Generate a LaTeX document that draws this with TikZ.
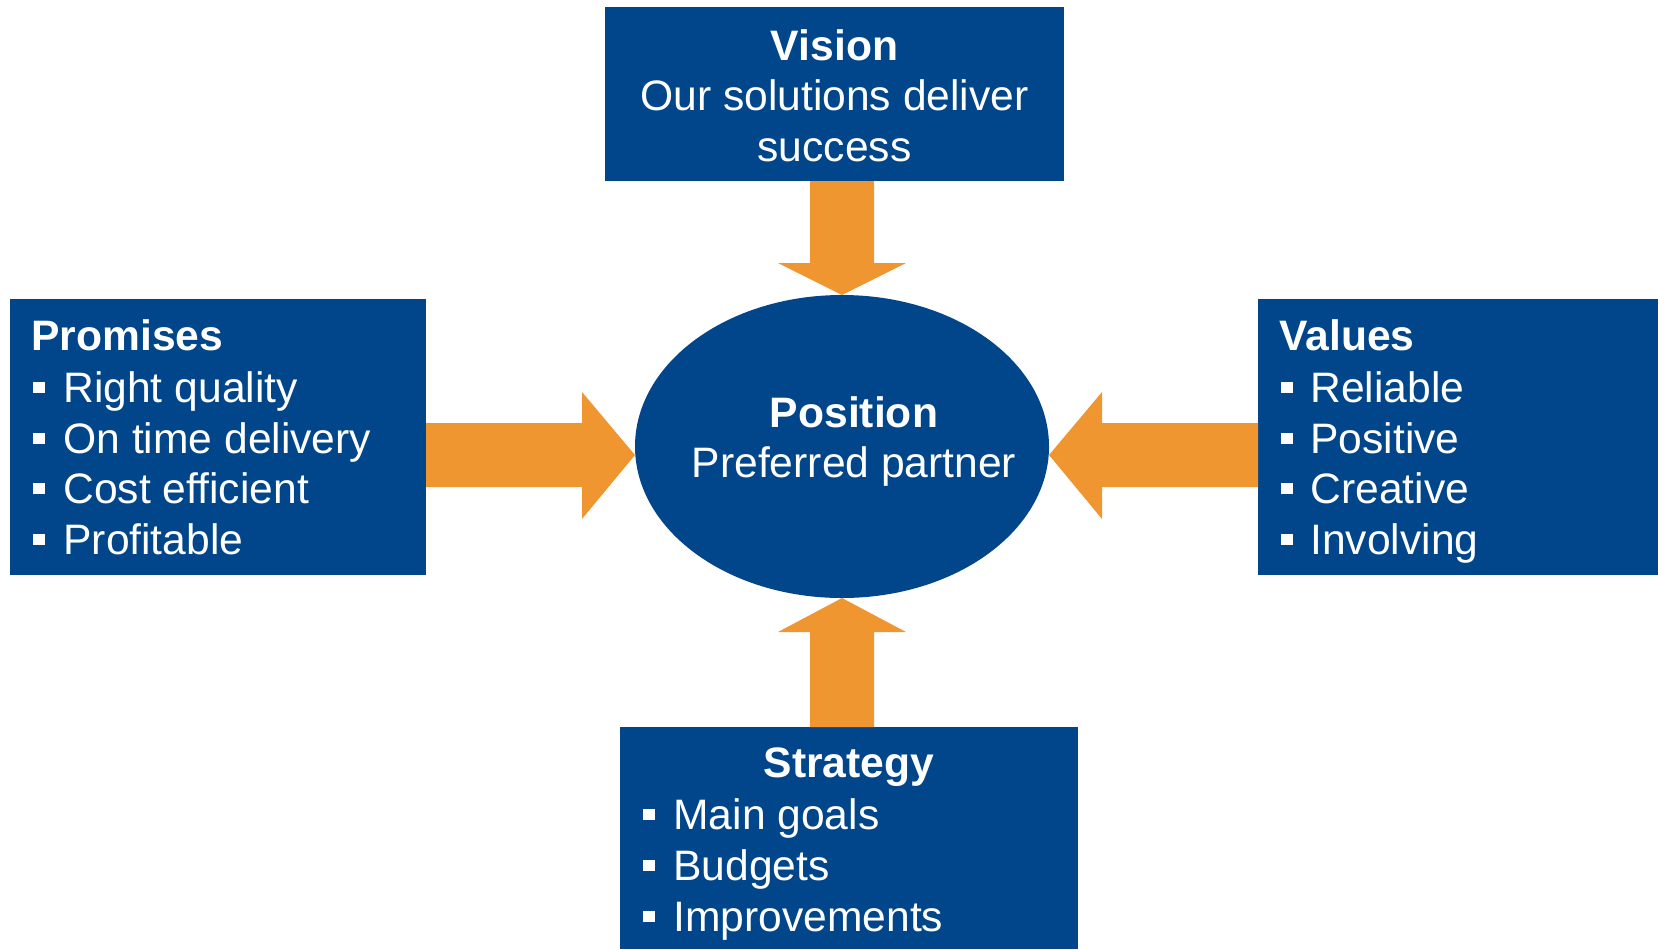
\documentclass[tikz,border=0pt]{standalone}
\usepackage{fontspec}
\setmainfont{Liberation Sans}
\usetikzlibrary{shapes.geometric,calc}
\definecolor{dblue}{RGB}{1,70,138}
\definecolor{orng}{RGB}{240,150,48}
\begin{document}
\begin{tikzpicture}[x=0.5pt,y=-0.5pt,
  box/.style={fill=dblue, draw=none, inner sep=0pt, outer sep=0pt, rectangle},
  blk/.style={fill=orng, draw=none},
  ttl/.style={text=white, font=\fontsize{21.3}{25}\selectfont\bfseries, anchor=base, inner sep=0pt},
  txt/.style={text=white, font=\fontsize{21.3}{25}\selectfont, anchor=base, inner sep=0pt},
  itm/.style={text=white, font=\fontsize{21.3}{25}\selectfont, anchor=base west, inner sep=0pt},
  bul/.style={fill=white, draw=none}
]
\useasboundingbox (0,0) rectangle (1658,949);
% boxes
\node[box, minimum width=229.5pt, minimum height=87pt] (vision) at (834.5,94) {};
\node[box, minimum width=208pt, minimum height=138pt] (promises) at (218,437) {};
\node[box, minimum width=200pt, minimum height=138pt] (values) at (1458,437) {};
\node[box, minimum width=229pt, minimum height=111pt] (strategy) at (849,838) {};
\node[ellipse, fill=dblue, draw=none, inner sep=0pt, outer sep=0pt, minimum width=207pt, minimum height=151.5pt] (pos) at (842,446.5) {};
% block arrows
\fill[blk] (vision.south -| 810,0) -- (810,263) -- (778,263) -- (pos.north) -- (906,263) -- (874,263) -- (vision.south -| 874,0) -- cycle;
\fill[blk] (strategy.north -| 810,0) -- (810,632) -- (778,632) -- (pos.south) -- (906,632) -- (874,632) -- (strategy.north -| 874,0) -- cycle;
\fill[blk] (promises.east |- 0,423) -- (582,423) -- (582,392) -- (pos.west |- 0,455) -- (582,519) -- (582,487) -- (promises.east |- 0,487) -- cycle;
\fill[blk] (values.west |- 0,423) -- (1102,423) -- (1102,392) -- (pos.east |- 0,455) -- (1102,519) -- (1102,487) -- (values.west |- 0,487) -- cycle;
% vision text
\node[ttl] (vt) at (834.5,60) {Vision};
\node[txt] (v1) at (834.5,110) {Our solutions deliver};
\node[txt] (v2) at (834.5,161) {success};
% position text
\node[ttl] (pt) at (854,427) {Position};
\node[txt] (p1) at (854,477) {Preferred partner};
% promises
\node[ttl, anchor=base west] (prt) at (31,350) {Promises};
\foreach \b/\t [count=\i] in {402/Right quality,453/On time delivery,503/Cost efficient,554/Profitable}{
  \fill[bul] (33,\b-20) rectangle (45,\b-9);
  \node[itm] (pr\i) at (63,\b) {\t};
}
% values
\node[ttl, anchor=base west] (vat) at (1279,350) {Values};
\foreach \b/\t [count=\i] in {402/Reliable,453/Positive,503/Creative,554/Involving}{
  \fill[bul] (1281,\b-20) rectangle (1293,\b-9);
  \node[itm] (va\i) at (1310,\b) {\t};
}
% strategy
\node[ttl] (st) at (849,777) {Strategy};
\foreach \b/\t [count=\i] in {829/Main goals,880/Budgets,931/Improvements}{
  \fill[bul] (643,\b-20) rectangle (655,\b-9);
  \node[itm] (s\i) at (673,\b) {\t};
}
\end{tikzpicture}
\end{document}
